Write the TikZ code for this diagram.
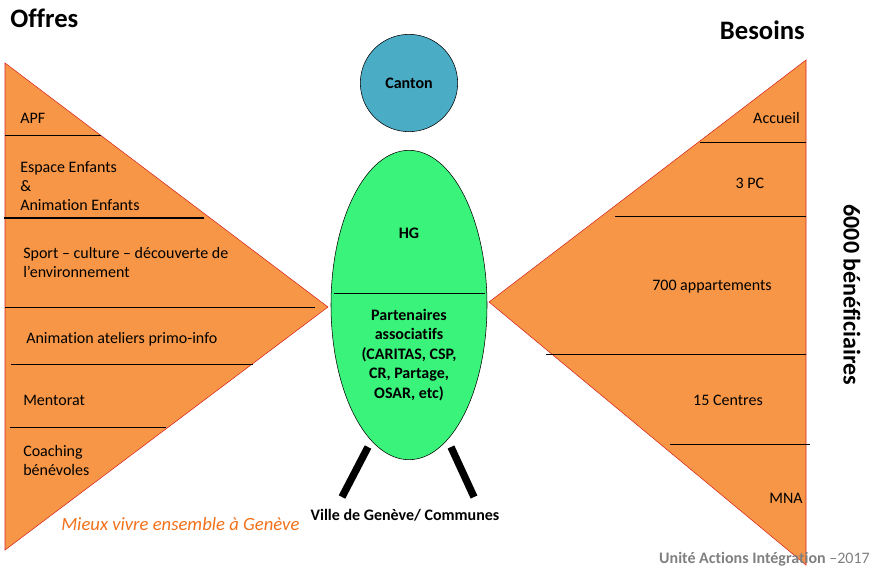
\documentclass[tikz,border=0pt]{standalone}
\usepackage{fontspec}
\setmainfont{Carlito}[Ligatures=NoCommon]
\usetikzlibrary{shapes.geometric}
\definecolor{offre}{RGB}{247,150,70}
\definecolor{bord}{RGB}{215,35,30}
\definecolor{canton}{RGB}{75,172,198}
\definecolor{partenaire}{RGB}{58,243,122}
\definecolor{slogan}{RGB}{242,112,25}
\definecolor{signature}{RGB}{128,128,128}

\begin{document}
\begin{tikzpicture}[x=0.75pt,y=-0.75pt]
            \tikzstyle{every node} = [inner sep=0pt, font=\fontsize{12}{14.3}\selectfont]
            \tikzstyle{titre} = [font=\fontsize{20}{24}\selectfont\bfseries]
            \tikzstyle{gras} = [font=\fontsize{12}{14.6}\selectfont\bfseries, align=center]
            \useasboundingbox (0,0) rectangle (874,569);
            % les deux triangles
            \draw[bord, fill=offre] (5,63) -- (328,307) -- (5,550) -- cycle;
            \draw[bord, fill=offre] (806,60) -- (489,302) -- (806,565) -- cycle;
            \draw (5,135) -- (101,135);
            \draw[thick] (4,218) -- (204,218);
            \draw (5,307) -- (315,307);
            \draw (11,364) -- (253,364);
            \draw (10,427) -- (166,427);
            \draw (700,142) -- (806,142);
            \draw (615,216) -- (806,216);
            \draw (546,354) -- (806,354);
            \draw (670,444) -- (810,444);
            % offres
            \node[titre, anchor=west] (offres) at (10,18) {Offres};
            \node[anchor=west] (apf) at (20,118) {APF};
            \node[anchor=west, align=left] (espace) at (20,186) {Espace Enfants\\\&\\Animation Enfants};
            \node[anchor=west, align=left] (sport) at (23,262.5) {Sport – culture – découverte de\\l’environnement};
            \node[anchor=west] (primo) at (26,339) {Animation ateliers primo-info};
            \node[anchor=west] (mentorat) at (23,400) {Mentorat};
            \node[anchor=west, align=left] (coaching) at (23,460.5) {Coaching\\bénévoles};
            \node[anchor=west, text=slogan, font=\fontsize{14}{17}\selectfont\itshape] (mieux) at (61,524) {Mieux vivre ensemble à Genève};
            % besoins
            \node[titre, anchor=east] (besoins) at (805,30) {Besoins};
            \node[anchor=east] (accueil) at (800,118) {Accueil};
            \node (pc) at (750,183) {3 PC};
            \node (appart) at (712,287) {700 appartements};
            \node (centres) at (728,400) {15 Centres};
            \node[anchor=east] (mna) at (803,498) {MNA};
            \node[rotate=-90, font=\fontsize{18}{22}\selectfont\bfseries] (total) at (852,295) {6000 bénéficiaires};
            % le bonhomme
            \node[circle, draw, fill=canton, minimum size=73pt, gras] (tete) at (409,83) {Canton};
            \node[ellipse, draw, fill=partenaire, minimum width=117pt, minimum height=232pt] (corps) at (409,305) {};
            \draw (334,293) -- (485,293);
            \node[gras] (hg) at (409,233) {HG};
            \node[gras] (assoc) at (409,355) {Partenaires\\associatifs\\(CARITAS, CSP,\\CR, Partage,\\OSAR, etc)};
            \draw[line width=5.5pt] (368,447) -- (342,497);
            \draw[line width=5.5pt] (451,447) -- (474,497);
            \node[gras] (ville) at (405,515) {Ville de Genève/ Communes};
            \node[anchor=east, text=signature] (unite) at (870,559) {\textbf{Unité Actions Intégration} –2017};
        \end{tikzpicture}
\end{document}
